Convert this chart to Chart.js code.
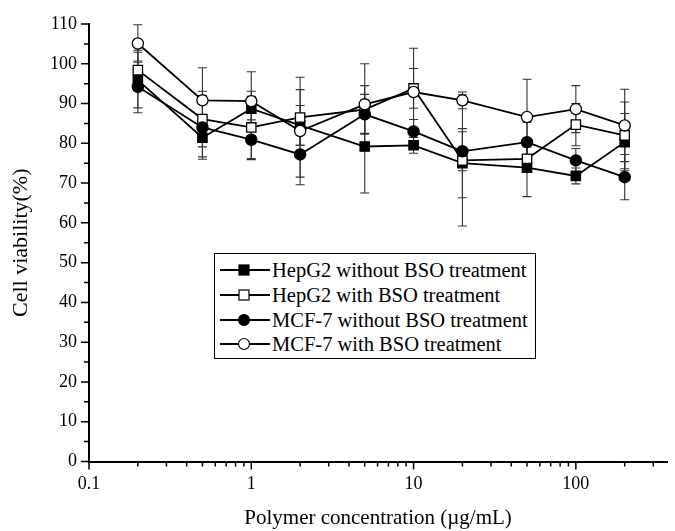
<!DOCTYPE html>
<html>
<head>
<meta charset="utf-8">
<script src="https://cdn.jsdelivr.net/npm/chart.js@4"></script>
<style>
  body { margin: 0; background: #fff; }
  #wrap { position: relative; width: 675px; height: 531px; }
  #viabilityChart { display: block; }
  #legendBox {
    position: absolute; left: 214px; top: 253px; width: 320px; height: 104px;
    border: 1px solid #000; background: #fff;
    font-family: "Liberation Serif", "Times New Roman", serif; font-size: 20.5px; color: #000;
  }
  #legendBox li { position: absolute; left: 0; height: 24px; list-style: none; white-space: nowrap; }
  #legendBox ul { margin: 0; padding: 0; }
  #legendBox svg { position: absolute; left: 4px; top: 0; }
  #legendBox span { position: absolute; left: 57px; top: 0; line-height: 24px; }
</style>
</head>
<body>
<div id="wrap">
  <canvas id="viabilityChart" width="675" height="531"></canvas>
  <div id="legendBox"><ul id="legendList"></ul></div>
</div>
<script>
var concentrations = [0.2, 0.5, 1, 2, 5, 10, 20, 50, 100, 200];

var hepg2Without    = [95.9, 81.4, 88.7, 84.5, 79.2, 79.5, 75.0, 73.9, 71.8, 80.3];
var hepg2WithoutErr = [7.0, 4.8, 4.4, 5.0, 11.7, 2.0, 8.7, 7.3, 2.0, 7.2];
var hepg2With       = [98.4, 86.1, 84.0, 86.5, 88.5, 93.8, 75.7, 76.1, 84.7, 82.0];
var hepg2WithErr    = [5.0, 7.0, 7.8, 7.0, 6.0, 5.0, 16.5, 3.0, 5.3, 8.4];
var mcf7Without     = [94.2, 84.0, 80.9, 77.2, 87.3, 83.0, 78.0, 80.3, 75.7, 71.5];
var mcf7WithoutErr  = [6.5, 8.0, 5.0, 5.7, 5.0, 3.0, 4.9, 5.0, 3.0, 5.7];
var mcf7With        = [105.1, 90.8, 90.6, 83.1, 89.8, 92.9, 90.8, 86.6, 88.6, 84.5];
var mcf7WithErr     = [4.7, 8.2, 7.4, 13.5, 10.2, 11.0, 2.1, 9.5, 5.9, 9.1];

var xLabelTicks = [0.1, 1, 10, 100];
var yLabelTicks = [0, 10, 20, 30, 40, 50, 60, 70, 80, 90, 100, 110];

var serif = '"Liberation Serif", "Times New Roman", serif';

function points(values, errs) {
    return concentrations.map(function (c, i) {
        return { x: c, y: values[i], err: errs[i] };
    });
}

var seriesList = [
    { label: 'HepG2 without BSO treatment', data: points(hepg2Without, hepg2WithoutErr), shape: 'rect', fill: '#000', order: 4 },
    { label: 'HepG2 with BSO treatment', data: points(hepg2With, hepg2WithErr), shape: 'rect', fill: '#fff', order: 3 },
    { label: 'MCF-7 without BSO treatment', data: points(mcf7Without, mcf7WithoutErr), shape: 'circle', fill: '#000', order: 2 },
    { label: 'MCF-7 with BSO treatment', data: points(mcf7With, mcf7WithErr), shape: 'circle', fill: '#fff', order: 1 }
];

var datasets = seriesList.map(function (s) {
    return {
        label: s.label,
        data: s.data,
        order: s.order,
        borderColor: '#000',
        borderWidth: 1.8,
        backgroundColor: s.fill,
        pointStyle: s.shape,
        pointRadius: s.shape === 'rect' ? 6.6 : 5.6,
        pointBorderWidth: 1.3,
        pointBorderColor: '#000',
        pointBackgroundColor: s.fill,
        tension: 0,
        fill: false
    };
});

// error bars behind the lines, from the same scales
var errorBars = {
    id: 'errorBars',
    beforeDatasetsDraw: function (chart) {
        var ctx = chart.ctx, xs = chart.scales.x, ys = chart.scales.y;
        ctx.save();
        ctx.strokeStyle = '#333';
        ctx.lineWidth = 1.1;
        chart.data.datasets.forEach(function (ds) {
            ds.data.forEach(function (p) {
                var px = xs.getPixelForValue(p.x);
                var top = ys.getPixelForValue(p.y + p.err);
                var bot = ys.getPixelForValue(p.y - p.err);
                ctx.beginPath();
                ctx.moveTo(px, top); ctx.lineTo(px, bot);
                ctx.moveTo(px - 4.5, top); ctx.lineTo(px + 4.5, top);
                ctx.moveTo(px - 4.5, bot); ctx.lineTo(px + 4.5, bot);
                ctx.stroke();
            });
        });
        ctx.restore();
    }
};

// outward tick marks, long on labelled values, short on the others
var tickMarks = {
    id: 'tickMarks',
    afterDraw: function (chart) {
        var ctx = chart.ctx, xs = chart.scales.x, ys = chart.scales.y;
        ctx.save();
        ctx.strokeStyle = '#000';
        ctx.lineWidth = 1.5;
        ctx.beginPath();
        xs.ticks.forEach(function (t) {
            var px = xs.getPixelForValue(t.value);
            var len = xLabelTicks.indexOf(t.value) >= 0 ? 8 : 5;
            ctx.moveTo(px, xs.top); ctx.lineTo(px, xs.top + len);
        });
        ys.ticks.forEach(function (t) {
            var py = ys.getPixelForValue(t.value);
            var len = yLabelTicks.indexOf(t.value) >= 0 ? 8 : 5;
            ctx.moveTo(ys.right, py); ctx.lineTo(ys.right - len, py);
        });
        ctx.stroke();
        ctx.restore();
    }
};

var ctx = document.getElementById('viabilityChart').getContext('2d');
var viabilityChart = new Chart(ctx, {
    type: 'line',
    data: { datasets: datasets },
    plugins: [errorBars, tickMarks],
    options: {
        responsive: false,
        animation: false,
        layout: { padding: { left: 0, right: 0, top: 24, bottom: 0 } },
        plugins: { legend: { display: false }, tooltip: { enabled: false } },
        scales: {
            x: {
                type: 'logarithmic',
                min: 0.1,
                max: 365,
                afterBuildTicks: function (scale) {
                    var list = [];
                    for (var d = 0.1; d < 500; d *= 10) {
                        for (var m = 1; m <= 9; m++) {
                            var v = parseFloat((d * m).toPrecision(3));
                            if (v <= 365) list.push({ value: v });
                        }
                    }
                    scale.ticks = list;
                },
                afterFit: function (scale) { scale.height = 69.5; },
                ticks: {
                    autoSkip: false,
                    maxRotation: 0,
                    padding: 4,
                    color: '#000',
                    font: { family: serif, size: 18 },
                    callback: function (value) {
                        return xLabelTicks.indexOf(value) >= 0 ? String(value) : '';
                    }
                },
                grid: { display: true, drawOnChartArea: false, drawTicks: true, tickLength: 8, tickColor: 'rgba(0,0,0,0)' },
                border: { display: true, color: '#000', width: 2 },
                title: {
                    display: true,
                    text: 'Polymer concentration (\u00b5g/mL)',
                    color: '#000',
                    font: { family: serif, size: 21 },
                    padding: { top: 0, bottom: 0 }
                }
            },
            y: {
                type: 'linear',
                min: 0,
                max: 110,
                afterBuildTicks: function (scale) {
                    var list = [];
                    for (var v = 0; v <= 110; v += 5) list.push({ value: v });
                    scale.ticks = list;
                },
                afterFit: function (scale) { scale.width = 89; },
                ticks: {
                    autoSkip: false,
                    padding: 4,
                    color: '#000',
                    font: { family: serif, size: 18 },
                    callback: function (value) {
                        return yLabelTicks.indexOf(value) >= 0 ? String(value) : '';
                    }
                },
                grid: { display: true, drawOnChartArea: false, drawTicks: true, tickLength: 8, tickColor: 'rgba(0,0,0,0)' },
                border: { display: true, color: '#000', width: 2 },
                title: {
                    display: true,
                    text: 'Cell viability(%)',
                    color: '#000',
                    font: { family: serif, size: 22 },
                    padding: { top: 8, bottom: 0 }
                }
            }
        }
    }
});

// legend rows: line with marker, then the label
var outputData = '';
for (var i = 0; i < seriesList.length; i++) {
    var s = seriesList[i];
    var mark = s.shape === 'rect'
        ? '<rect x="20" y="7" width="10" height="10" fill="' + s.fill + '" stroke="#000" stroke-width="1.2"/>'
        : '<circle cx="25" cy="12" r="5.5" fill="' + s.fill + '" stroke="#000" stroke-width="1.2"/>';
    outputData += '<li style="top:' + (4.3 + i * 24.7) + 'px;">' +
        '<svg width="52" height="24"><line x1="1" y1="12" x2="51" y2="12" stroke="#000" stroke-width="1.8"/>' + mark + '</svg>' +
        '<span>' + s.label + '</span></li>';
}
document.getElementById('legendList').innerHTML = outputData;
</script>
</body>
</html>
